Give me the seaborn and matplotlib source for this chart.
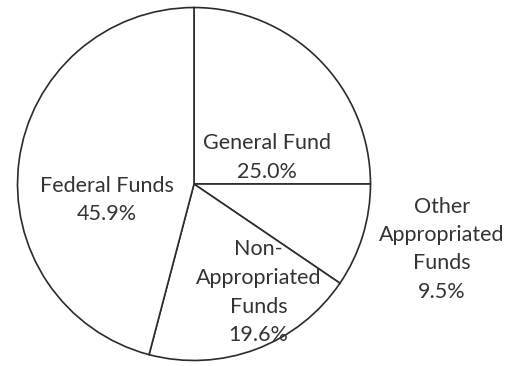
import matplotlib
matplotlib.use("Agg")
import matplotlib.pyplot as plt
import seaborn as sns

# Fund shares, drawn clockwise from twelve o'clock
categories = ["General Fund", "Other Appropriated Funds", "Non-Appropriated Funds", "Federal Funds"]
shares = [25.0, 9.5, 19.6, 45.9]
label_lines = [
    ["General Fund", "25.0%"],
    ["Other", "Appropriated", "Funds", "9.5%"],
    ["Non-", "Appropriated", "Funds", "19.6%"],
    ["Federal Funds", "45.9%"],
]

sns.set_theme(style="white")
plt.rcParams["font.family"] = ["Lato", "DejaVu Sans"]

W, H = 518, 366
fig = plt.figure(figsize=(W / 100, H / 100), dpi=100)
cx, cy, r = 194, 184, 180
ax = fig.add_axes([(cx - r) / W, (H - cy - r) / H, 2 * r / W, 2 * r / H])

ax.pie(
    shares,
    startangle=90,
    counterclock=False,
    colors=["white"] * len(shares),
    wedgeprops=dict(edgecolor="#2b2b2b", linewidth=1.2),
)
ax.set_xlim(-1.02, 1.02)
ax.set_ylim(-1.02, 1.02)
ax.set_aspect("equal")
ax.axis("off")


def px(x, y):
    return (x - cx) / r, (cy - y) / r


# first-line centre (pixels) and line spacing for each label block
label_anchor = [(268, 142, 30), (447, 207, 29), (260, 250, 29.5), (105, 186, 29)]
for lines, (x0, y0, step) in zip(label_lines, label_anchor):
    for i, line in enumerate(lines):
        x, y = px(x0, y0 + i * step)
        ax.text(x, y, line, ha="center", va="center", fontsize=15.5,
                color="#333333", clip_on=False)

fig.savefig("out.png", dpi=100, facecolor="white")
